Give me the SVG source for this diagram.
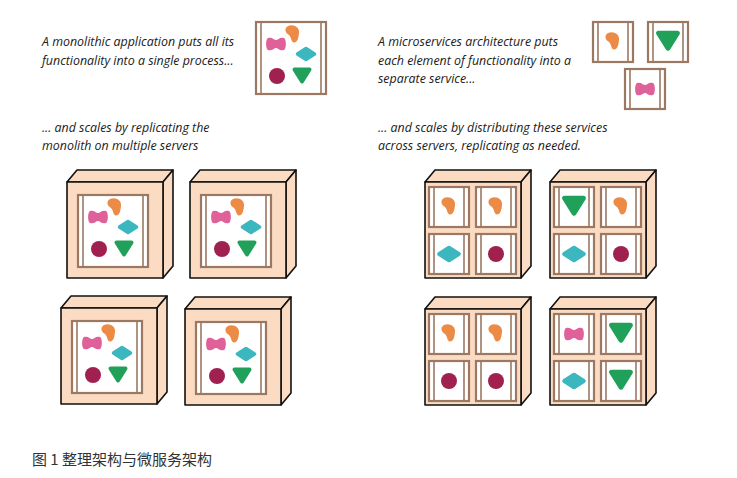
<svg xmlns="http://www.w3.org/2000/svg" xmlns:xlink="http://www.w3.org/1999/xlink" width="737" height="478" viewBox="0 0 737 478">
<style>
.t{font-family:"Open Sans","Liberation Sans",sans-serif;font-style:italic;font-size:12.4px;fill:#1a1a1a}
.cap{font-family:"Noto Sans CJK SC","Liberation Sans",sans-serif;font-size:15px;fill:#333}
.box{fill:#fbdcc3;stroke:#111;stroke-width:1.6;stroke-linejoin:round}
.fr{fill:#fff;stroke:#9c7862;stroke-width:2.2}
.ln{stroke:#9c7862;stroke-width:1.6}
</style>
<defs>
<path id="pink" d="M-8,-6 C-4,-7.5 -2,-4 0,-4 C2,-4 4,-7.5 8,-6 C10.5,-5 10.5,5 8,6 C4,7.5 2,4 0,4 C-2,4 -4,7.5 -8,6 C-10.5,5 -10.5,-5 -8,-6 Z" fill="#e0609a"/>
<path id="orange" d="M-5,-8 C0,-10.5 7,-7 6,-1 C5.5,3 5,8.5 1,8.5 C-2,8.5 -1.5,3 -4,1 C-8,-1 -9,-6 -5,-8 Z" fill="#ec8b45"/>
<polygon id="teal" points="-8.5,0 0,-5.5 8.5,0 0,5.5" fill="#3cb7bf" stroke="#3cb7bf" stroke-width="3.5" stroke-linejoin="round"/>
<circle id="maroon" r="8" fill="#a0214f"/>
<path id="green" d="M-7.5,-5.5 L7.5,-5.5 L0,6.5 Z" fill="#21a05a" stroke="#21a05a" stroke-width="4" stroke-linejoin="round"/>
<g id="mono">
<rect class="fr" x="0" y="0" width="70" height="72"/>
<line class="ln" x1="5" y1="0" x2="5" y2="72"/>
<line class="ln" x1="65" y1="0" x2="65" y2="72"/>
<use href="#pink" x="20" y="22"/>
<use href="#orange" x="37" y="12"/>
<use href="#teal" x="50" y="32"/>
<use href="#maroon" x="21" y="54"/>
<use href="#green" x="46" y="53"/>
</g>
<g id="svc">
<rect class="fr" x="0" y="0" width="40" height="40"/>
<line class="ln" x1="5" y1="0" x2="5" y2="40"/>
<line class="ln" x1="35" y1="0" x2="35" y2="40"/>
</g>
<g id="server">
<polygon class="box" points="0,0 10,-12 106,-12 96,0"/>
<polygon class="box" points="96,0 106,-12 106,84 96,96"/>
<rect class="box" x="0" y="0" width="96" height="96"/>
</g>
</defs>

<g id="text-left">
<text class="t" x="42" y="46">A monolithic application puts all its</text>
<text class="t" x="42" y="65">functionality into a single process...</text>
<text class="t" x="42" y="132">... and scales by replicating the</text>
<text class="t" x="42" y="150">monolith on multiple servers</text>
</g>
<g id="text-right">
<text class="t" x="378" y="46">A microservices architecture puts</text>
<text class="t" x="378" y="65">each element of functionality into a</text>
<text class="t" x="378" y="83">separate service...</text>
<text class="t" x="378" y="132">... and scales by distributing these services</text>
<text class="t" x="378" y="150">across servers, replicating as needed.</text>
</g>

<g id="monolith-icon"><use href="#mono" x="256" y="22"/></g>

<g id="micro-icon-1" transform="translate(593,22)"><use href="#svc"/><use href="#orange" x="20" y="19"/></g>
<g id="micro-icon-2" transform="translate(648,22)"><use href="#svc"/><g transform="translate(20,18) scale(1.25)"><use href="#green"/></g></g>
<g id="micro-icon-3" transform="translate(625,69)"><use href="#svc"/><use href="#pink" x="20" y="20"/></g>

<g id="mono-server-1" transform="translate(67,182)"><use href="#server"/><use href="#mono" x="11" y="13"/></g>
<g id="mono-server-2" transform="translate(190,182)"><use href="#server"/><use href="#mono" x="11" y="13"/></g>
<g id="mono-server-3" transform="translate(61,308)"><use href="#server"/><use href="#mono" x="11" y="13"/></g>
<g id="mono-server-4" transform="translate(185,309)"><use href="#server"/><use href="#mono" x="11" y="13"/></g>

<g id="micro-server-1" transform="translate(425,182)"><use href="#server"/>
<g transform="translate(4,5)"><use href="#svc"/><use href="#orange" x="20" y="19"/></g>
<g transform="translate(51,5)"><use href="#svc"/><use href="#orange" x="20" y="19"/></g>
<g transform="translate(4,52)"><use href="#svc"/><g transform="translate(20,20) scale(1.15)"><use href="#teal"/></g></g>
<g transform="translate(51,52)"><use href="#svc"/><use href="#maroon" x="20" y="20"/></g>
</g>
<g id="micro-server-2" transform="translate(550,182)"><use href="#server"/>
<g transform="translate(4,5)"><use href="#svc"/><g transform="translate(20,18) scale(1.25)"><use href="#green"/></g></g>
<g transform="translate(51,5)"><use href="#svc"/><use href="#orange" x="20" y="19"/></g>
<g transform="translate(4,52)"><use href="#svc"/><g transform="translate(20,20) scale(1.15)"><use href="#teal"/></g></g>
<g transform="translate(51,52)"><use href="#svc"/><use href="#maroon" x="20" y="20"/></g>
</g>
<g id="micro-server-3" transform="translate(425,309)"><use href="#server"/>
<g transform="translate(4,5)"><use href="#svc"/><use href="#orange" x="20" y="19"/></g>
<g transform="translate(51,5)"><use href="#svc"/><use href="#orange" x="20" y="19"/></g>
<g transform="translate(4,52)"><use href="#svc"/><use href="#maroon" x="20" y="20"/></g>
<g transform="translate(51,52)"><use href="#svc"/><use href="#maroon" x="20" y="20"/></g>
</g>
<g id="micro-server-4" transform="translate(550,309)"><use href="#server"/>
<g transform="translate(4,5)"><use href="#svc"/><use href="#pink" x="20" y="20"/></g>
<g transform="translate(51,5)"><use href="#svc"/><g transform="translate(20,18) scale(1.25)"><use href="#green"/></g></g>
<g transform="translate(4,52)"><use href="#svc"/><g transform="translate(20,20) scale(1.15)"><use href="#teal"/></g></g>
<g transform="translate(51,52)"><use href="#svc"/><g transform="translate(20,18) scale(1.25)"><use href="#green"/></g></g>
</g>

<g id="connectors"/>

<text class="cap" x="32" y="465">图 1 整理架构与微服务架构</text>
</svg>
